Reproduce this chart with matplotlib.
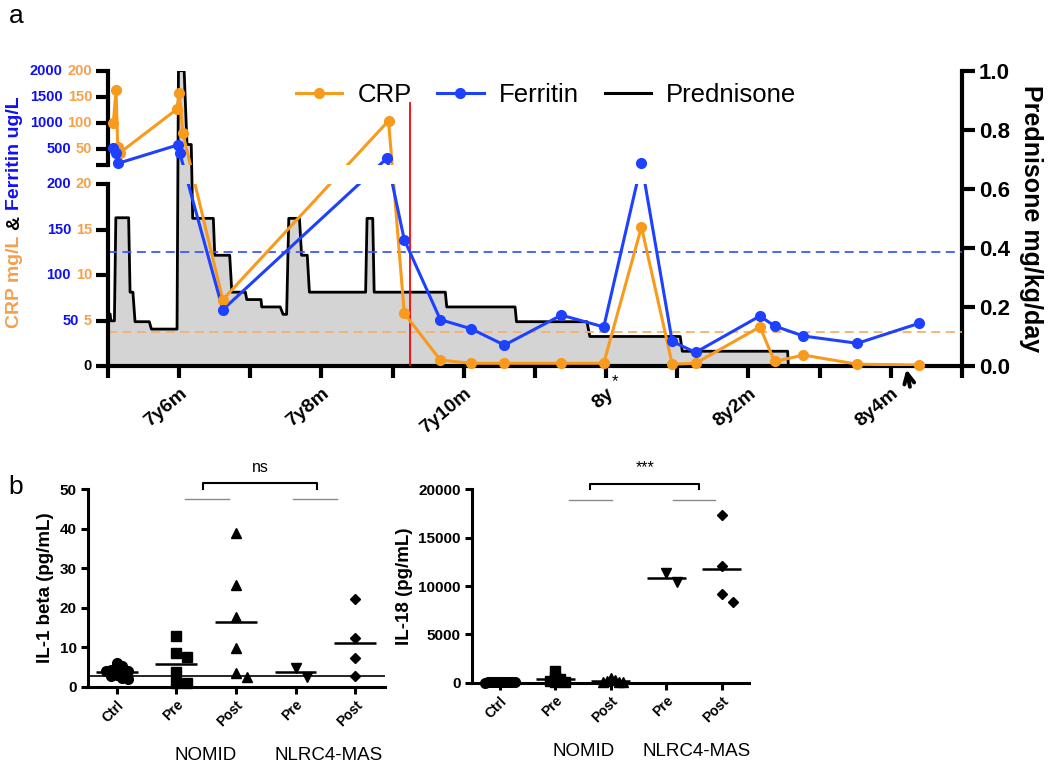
import numpy as np
import matplotlib
matplotlib.use('Agg')
import matplotlib.pyplot as plt
from matplotlib.patches import Rectangle
from matplotlib.lines import Line2D

plt.rcParams['font.family'] = ['Liberation Sans', 'DejaVu Sans']

# ---------------- panel a (age in months) ----------------
crp_month = [89.075, 89.113, 89.137, 89.169, 89.966, 90.003, 90.051, 90.613, 92.942, 93.163,
             93.67, 94.101, 94.570, 95.371, 95.966, 96.496, 96.928, 97.256, 98.160, 98.367,
             98.771, 99.530, 100.397]
crp_mgl = [100, 163, 53, 43, 126, 157, 80, 7.3, 104, 5.8,
           0.65, 0.3, 0.3, 0.3, 0.3, 15.3, 0.2, 0.3, 4.3, 0.5,
           1.2, 0.2, 0.1]

fer_month = [89.066, 89.108, 89.145, 89.98, 90.01, 90.613, 92.920, 93.163, 93.67, 94.101,
             94.570, 95.371, 95.966, 96.496, 96.928, 97.256, 98.160, 98.367, 98.771, 99.530,
             100.397]
fer_ugl = [513, 417, 226, 576, 417, 62, 322, 139, 51, 41,
           23, 56, 43, 226, 27, 15, 55, 44, 33, 25,
           47]

pred_month = [89.0, 89.03, 89.04, 89.09, 89.11, 89.29, 89.31, 89.35, 89.38, 89.58,
              89.61, 89.97, 89.99, 90.07, 90.11, 90.17, 90.19, 90.48, 90.50, 90.71,
              90.74, 90.93, 90.95, 91.15, 91.16, 91.42, 91.46, 91.51, 91.54, 91.69,
              91.72, 91.80, 91.83, 92.62, 92.64, 92.72, 92.74, 93.74, 93.76, 94.72,
              94.74, 95.73, 95.77, 97.04, 97.07, 98.55, 98.56]
pred_dose = [0.176, 0.176, 0.153, 0.153, 0.502, 0.502, 0.25, 0.25, 0.15, 0.15,
             0.125, 0.125, 1.0, 1.0, 0.75, 0.75, 0.5, 0.5, 0.375, 0.375,
             0.25, 0.25, 0.225, 0.225, 0.2, 0.2, 0.175, 0.175, 0.5, 0.5,
             0.375, 0.375, 0.25, 0.25, 0.5, 0.5, 0.25, 0.25, 0.2, 0.2,
             0.15, 0.15, 0.1, 0.1, 0.05, 0.05, 0.0]

fer_limit = 125
crp_limit = 3.7
treat_month = 93.25
arrow_month = 100.21
star_month = 96.13

age_ticks = list(range(89, 102))
age_labels = ['', '7y6m', '', '7y8m', '', '7y10m', '', '8y', '', '8y2m', '', '8y4m', '']
fer_ticks = [50, 100, 150, 200, 500, 1000, 1500, 2000]

# ---------------- panel b ----------------
groups = ['Ctrl', 'Pre', 'Post', 'Pre', 'Post']
markers = ['o', 's', '^', 'v', 'D']

il1b_ctrl = [5.9, 3.9, 4.2, 2.6, 2.2, 1.9, 3.0, 4.0, 5.2, 4.4, 3.6]
il1b_nomid_pre = [12.9, 7.4, 8.6, 3.8, 0.9, 0.9]
il1b_nomid_post = [39.0, 25.8, 17.7, 9.9, 2.5, 3.4]
il1b_mas_pre = [2.5, 4.8]
il1b_mas_post = [22.1, 12.4, 7.2, 2.7]
il1b_cutoff = 2.8

il18_ctrl = [30, 50, 20, 40, 60, 25, 35, 45, 55, 30, 40]
il18_nomid_pre = [1240, 600, 350, 200, 50, 30]
il18_nomid_post = [450, 300, 200, 120, 60, 40]
il18_mas_pre = [10370, 11340]
il18_mas_post = [17350, 12090, 9175, 8310]

ORANGE = '#F89A1C'
BLUE = '#1E40FF'
ORANGE_TXT = '#F6A04C'
BLUE_TXT = '#1010F5'

W, H = 1050, 763
fig = plt.figure(figsize=(W / 100, H / 100), dpi=100)


def rect(x0, y0, x1, y1):
    return [x0 / W, 1 - y1 / H, (x1 - x0) / W, (y1 - y0) / H]


# broken left axis: 0-200 low part, 200-2000 compressed upper part
LOW, GAP, HIGH = 181.7, 19.7, 93.9
TOTAL = LOW + GAP + HIGH
BRK, TOP = 200.0, 2000.0


def fwd(v):
    v = np.asarray(v, float)
    return np.where(v <= BRK, v / BRK * LOW, LOW + GAP + (v - BRK) / (TOP - BRK) * HIGH)


def inv(u):
    u = np.asarray(u, float)
    return np.where(u <= LOW, u / LOW * BRK,
                    np.where(u < LOW + GAP, BRK, BRK + (u - LOW - GAP) / HIGH * (TOP - BRK)))


ax_p = fig.add_axes(rect(108, 70.7, 962, 366))
ax_c = ax_p.twinx()
ax_p.yaxis.tick_right()
ax_p.yaxis.set_label_position('right')
ax_c.yaxis.tick_left()
ax_c.yaxis.set_label_position('left')

# prednisone
ax_p.fill_between(pred_month, pred_dose, 0, color='#D4D4D4', lw=0)
ax_p.plot(pred_month, pred_dose, color='black', lw=2.0)
ax_p.set_xlim(89, 101)
ax_p.set_ylim(0, 1)
ax_p.set_yticks(np.arange(0, 1.01, 0.2))
ax_p.set_yticklabels([f'{t:.1f}' for t in np.arange(0, 1.01, 0.2)], fontsize=16, fontweight='bold')
ax_p.tick_params(axis='y', length=9, width=3, pad=3)
ax_p.set_xticks(age_ticks)
ax_p.set_xticklabels(age_labels, fontsize=14, fontweight='bold', rotation=40,
                     ha='right', rotation_mode='anchor')
ax_p.tick_params(axis='x', length=8.5, width=3, pad=5)
for s in ['left', 'top']:
    ax_p.spines[s].set_visible(False)
for s in ['right', 'bottom']:
    ax_p.spines[s].set_linewidth(3)
ax_p.set_ylabel('Prednisone mg/kg/day', rotation=270, labelpad=24, fontsize=18, fontweight='bold')

# CRP / ferritin on the broken axis
ax_c.set_yscale('function', functions=(fwd, inv))
ax_c.set_ylim(0, TOP)
ax_c.set_yticks([0] + fer_ticks + [BRK + 0.01])
ax_c.set_yticklabels([])
ax_c.tick_params(axis='y', length=9, width=3)
for s in ['right', 'top', 'bottom']:
    ax_c.spines[s].set_visible(False)
ax_c.spines['left'].set_linewidth(3)
ax_c.spines['left'].set_bounds(0, BRK)
ax_c.plot([0, 0], [BRK + 0.01, TOP], transform=ax_c.get_yaxis_transform(), color='black',
          lw=3, clip_on=False, solid_capstyle='projecting')

ytr = ax_c.get_yaxis_transform()
for v in fer_ticks:
    t = ax_c.annotate(f'{v // 10}', xy=(0, v), xycoords=ytr, xytext=(-11.5, 0),
                      textcoords='offset points', ha='right', va='center',
                      color=ORANGE_TXT, fontsize=10.5, fontweight='bold')
    ax_c.annotate(str(v), xy=(0, 0.5), xycoords=t, xytext=(-3.5, 0), textcoords='offset points',
                  ha='right', va='center', color=BLUE_TXT, fontsize=10.5, fontweight='bold')
ax_c.annotate('0', xy=(0, 0), xycoords=ytr, xytext=(-11.5, 0), textcoords='offset points',
              ha='right', va='center', color='black', fontsize=10.5, fontweight='bold')

ax_c.axhline(fer_limit, color='#3A5BFF', ls=(0, (5, 3)), lw=1.3, zorder=1)
ax_c.axhline(crp_limit * 10, color='#F6B070', ls=(0, (5, 3)), lw=1.3, zorder=1)
ax_c.axvline(treat_month, ymax=(366 - 103) / TOTAL, color='red', lw=1.3, zorder=2)

clip_lo = Rectangle((0, 0), 1, LOW / TOTAL, transform=ax_c.transAxes)
clip_hi = Rectangle((0, (LOW + GAP) / TOTAL), 1, HIGH / TOTAL, transform=ax_c.transAxes)
series = [(crp_month, np.array(crp_mgl) * 10, ORANGE), (fer_month, np.array(fer_ugl), BLUE)]
for months, vals, col in series:
    for clip in (clip_lo, clip_hi):
        ln, = ax_c.plot(months, vals, color=col, lw=2.2, zorder=3)
        ln.set_clip_path(clip)
    ax_c.plot(months, vals, ls='none', marker='o', ms=7, color=col, zorder=4, clip_on=False)

handles = [Line2D([], [], color=ORANGE, lw=2.2, marker='o', ms=7),
           Line2D([], [], color=BLUE, lw=2.2, marker='o', ms=7),
           Line2D([], [], color='black', lw=2.2)]
ax_c.legend(handles, ['CRP', 'Ferritin', 'Prednisone'], loc='center', bbox_to_anchor=(0.513, 0.918),
            ncol=3, frameon=False, fontsize=18.5, handlelength=1.8, handletextpad=0.6,
            columnspacing=1.0)

ax_p.annotate('*', xy=(star_month, 0), xytext=(0, -6), textcoords='offset points',
              ha='center', va='top', fontsize=12)
ax_p.annotate('', xy=(arrow_month, 0), xytext=(3, -15), textcoords='offset points',
              arrowprops=dict(arrowstyle='->', lw=2.8, color='black', shrinkA=0, shrinkB=2.5,
                              mutation_scale=18), annotation_clip=False)

# coloured left axis title
fs = dict(rotation=90, ha='center', va='bottom', fontsize=14, fontweight='bold')
t1 = ax_c.annotate('CRP mg/L', xy=(14.5 / W, (H - 328) / H), xycoords='figure fraction',
                   color=ORANGE_TXT, **fs)
t2 = ax_c.annotate('&', xy=(0.5, 1), xycoords=t1, xytext=(0, 4), textcoords='offset points',
                   color='black', **fs)
ax_c.annotate('Ferritin ug/L', xy=(0.5, 1), xycoords=t2, xytext=(0, 4), textcoords='offset points',
              color=BLUE_TXT, **fs)

fig.text(0.008, 0.995, 'a', fontsize=19, va='top')
fig.text(0.008, 0.377, 'b', fontsize=19, va='top')


# ---------------- panel b ----------------
def swarm(vals, px_x, px_y, min_px):
    # spread overlapping points sideways, Prism style
    order = np.argsort(vals)[::-1]
    placed = {}
    for i in order:
        v = vals[i]
        cands = [0.0] + [s * k * min_px * 0.5 for k in range(1, 60) for s in (1, -1)]
        for c in cands:
            if all((c - pc) ** 2 + ((v - pv) * px_y) ** 2 >= min_px ** 2 for pc, pv in placed.values()):
                break
        placed[i] = (c, v)
    return np.array([placed[i][0] for i in range(len(vals))]) / px_x


def scatter_panel(ax, data, ylim, yticks, ylabel, min_px):
    pos = ax.get_position()
    x0, x1 = ax.get_xlim()
    px_x = pos.width * W / (x1 - x0)
    px_y = pos.height * H / (ylim[1] - ylim[0])
    for i, (vals, mk, mp) in enumerate(zip(data, markers, min_px)):
        vals = np.array(vals, float)
        offs = swarm(vals, px_x, px_y, mp)
        ms = 5.5 if mk == 'D' else 7
        ax.plot(i + offs, vals, ls='none', marker=mk, ms=ms, color='black', zorder=3, clip_on=False)
        ax.hlines(vals.mean(), i - 0.35, i + 0.35, color='black', lw=1.8, zorder=4)
    ax.set_ylim(*ylim)
    ax.set_yticks(yticks)
    ax.set_yticklabels([str(t) for t in yticks], fontsize=11, fontweight='bold')
    ax.set_xticks(range(len(groups)))
    ax.set_xticklabels(groups, fontsize=10, fontweight='bold', rotation=45, ha='right',
                       rotation_mode='anchor')
    ax.tick_params(length=5, width=2.2, pad=3)
    for s in ['top', 'right']:
        ax.spines[s].set_visible(False)
    for s in ['left', 'bottom']:
        ax.spines[s].set_linewidth(2.2)
    ax.set_ylabel(ylabel, fontsize=13.5, fontweight='bold')


def bracket(ax, xa, xb, y0, y1, ygray, gray_spans, label):
    ax.plot([xa, xa, xb, xb], [y0, y1, y1, y0], color='black', lw=1.5, clip_on=False)
    for g0, g1 in gray_spans:
        ax.plot([g0, g1], [ygray, ygray], color='#8A8A8A', lw=1.0, clip_on=False)
    ax.annotate(label, xy=((xa + xb) / 2, y1), xytext=(0, 6), textcoords='offset points',
                ha='center', va='bottom', fontsize=11.5, annotation_clip=False)


ax1 = fig.add_axes(rect(88, 489.3, 385, 686.7))
ax1.set_xlim(-0.48, 4.5)
scatter_panel(ax1, [il1b_ctrl, il1b_nomid_pre, il1b_nomid_post, il1b_mas_pre, il1b_mas_post],
              (0, 50), [0, 10, 20, 30, 40, 50], 'IL-1 beta (pg/mL)', [5.5, 11, 11, 11, 11])
ax1.axhline(il1b_cutoff, color='black', lw=1.2, zorder=2)
bracket(ax1, 1.45, 3.36, 50, 51.6, 47.5, [(1.15, 1.88), (2.96, 3.70)], 'ns')

ax2 = fig.add_axes(rect(471.7, 489.3, 749, 682.7))
ax2.set_xlim(-0.51, 4.49)
scatter_panel(ax2, [il18_ctrl, il18_nomid_pre, il18_nomid_post, il18_mas_pre, il18_mas_post],
              (0, 20000), [0, 5000, 10000, 15000, 20000], 'IL-18 (pg/mL)', [3, 5, 4, 11, 11])
bracket(ax2, 1.63, 3.59, 20000, 20588, 18907, [(1.24, 2.02), (3.12, 3.87)], '***')

for ax, ypos in [(ax1, -0.346), (ax2, -0.357)]:
    tr = ax.get_xaxis_transform()
    ax.text(1.5, ypos, 'NOMID', transform=tr, ha='center', va='center', fontsize=13.5)
    ax.text(3.55, ypos, 'NLRC4-MAS', transform=tr, ha='center', va='center', fontsize=13.5)

fig.savefig('out.png', dpi=100)
